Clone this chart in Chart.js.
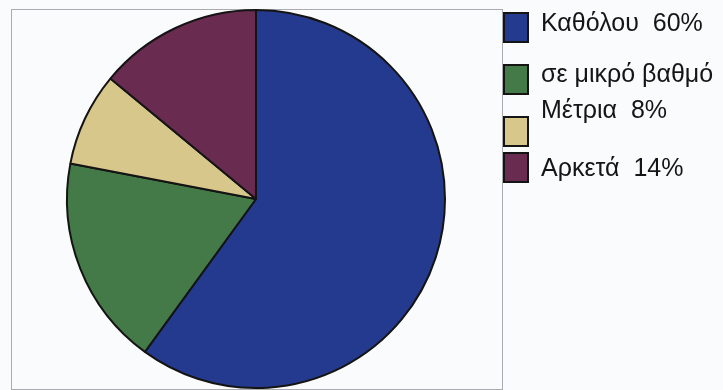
<!DOCTYPE html>
<html>
<head>
<meta charset="utf-8">
<script src="https://cdn.jsdelivr.net/npm/chart.js@4"></script>
<style>
    html, body { margin: 0; padding: 0; background: #f9fbfc; }
    #wrap { width: 723px; height: 390px; }
</style>
</head>
<body>
<div id="wrap"><canvas id="pieChart" width="723" height="390"></canvas></div>
<script>
const labels = ["Καθόλου", "σε μικρό βαθμό", "Μέτρια", "Αρκετά"];
const values = [60, 18, 8, 14];
const colors = ["#243a8f", "#437a47", "#d8c78b", "#692b4f"];

// legend rows: box top and text baseline for each entry
const legendBoxY = [13, 65, 117, 153];
const legendTextY = [31, 82, 118, 176];

const framePlugin = {
    id: 'frame',
    beforeDraw(chart) {
        const ctx = chart.ctx;
        ctx.save();
        ctx.strokeStyle = '#a9abae';
        ctx.lineWidth = 1;
        ctx.strokeRect(11.5, 9.5, 491, 380);
        ctx.restore();
    }
};

const sideLegend = {
    id: 'sideLegend',
    afterDraw(chart) {
        const ctx = chart.ctx;
        ctx.save();
        ctx.font = '25px "Liberation Sans", Arial, sans-serif';
        ctx.textBaseline = 'alphabetic';
        labels.forEach((lab, i) => {
            ctx.fillStyle = colors[i];
            ctx.fillRect(504, legendBoxY[i], 24, 29);
            ctx.strokeStyle = '#141414';
            ctx.lineWidth = 2;
            ctx.strokeRect(504, legendBoxY[i], 24, 29);
            ctx.fillStyle = '#151515';
            ctx.fillText(lab + '  ' + values[i] + '%', 541, legendTextY[i]);
        });
        ctx.restore();
    }
};

new Chart(document.getElementById('pieChart'), {
    type: 'pie',
    data: {
        labels: labels,
        datasets: [{
            data: values,
            backgroundColor: colors,
            borderColor: '#141414',
            borderWidth: 2
        }]
    },
    options: {
        responsive: false,
        animation: false,
        layout: { padding: { left: 65, right: 276, top: 9, bottom: 1 } },
        plugins: {
            legend: { display: false },
            tooltip: { enabled: false }
        }
    },
    plugins: [framePlugin, sideLegend]
});
</script>
</body>
</html>
